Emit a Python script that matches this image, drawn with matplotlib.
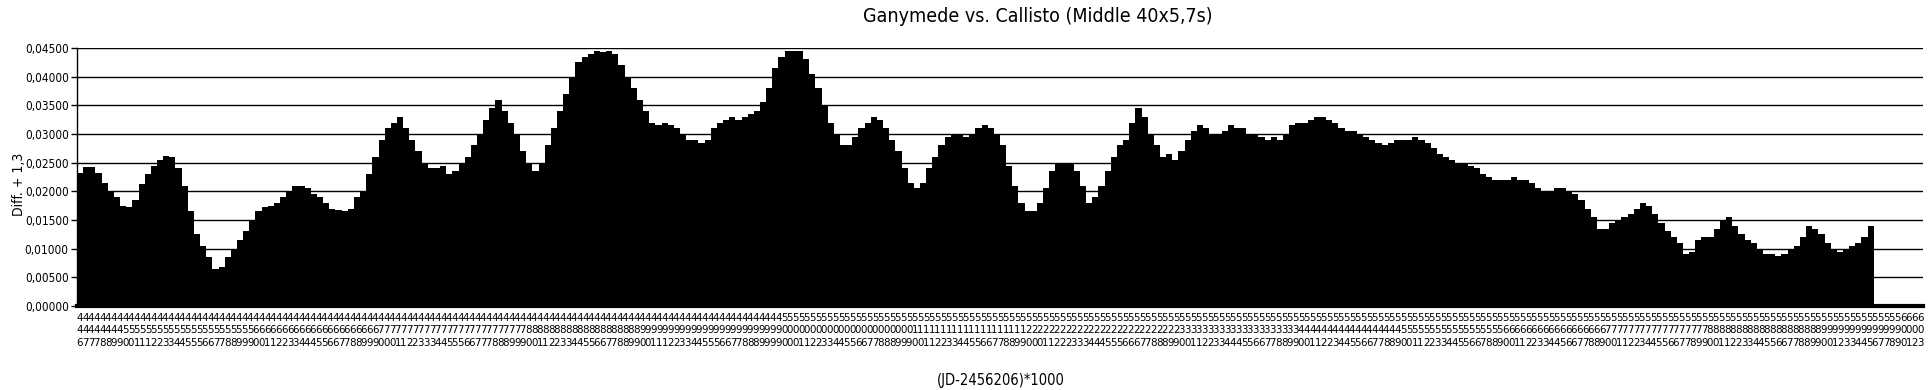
import numpy as np
import matplotlib
matplotlib.use("Agg")
import matplotlib.pyplot as plt
from matplotlib import font_manager

# ---------------- data ----------------
title = "Ganymede vs. Callisto (Middle 40x5,7s)"
x_title = "(JD-2456206)*1000"
y_title = "Diff. + 1,3"

# Diff values, left to right (approximate readings of the bar profile)
values_a = [
    0.0232, 0.0243, 0.0243, 0.0232, 0.0215, 0.0200, 0.0190, 0.0175, 0.0172, 0.0185,
    0.0212, 0.0230, 0.0245, 0.0255, 0.0262, 0.0260, 0.0240, 0.0210, 0.0165, 0.0125,
    0.0105, 0.0085, 0.0065, 0.0068, 0.0085, 0.0100, 0.0115, 0.0130, 0.0150, 0.0165,
    0.0172, 0.0175, 0.0180, 0.0190, 0.0200, 0.0210, 0.0210, 0.0205, 0.0195, 0.0190,
    0.0180, 0.0170, 0.0168, 0.0165, 0.0170, 0.0190,
]
values_b = [
    0.0200, 0.0230, 0.0260, 0.0290, 0.0310, 0.0320, 0.0330, 0.0310, 0.0290, 0.0270,
    0.0250, 0.0240, 0.0240, 0.0245, 0.0230, 0.0235, 0.0250, 0.0260, 0.0280, 0.0300,
    0.0325, 0.0345, 0.0360, 0.0340, 0.0320, 0.0300, 0.0270, 0.0250, 0.0235, 0.0250,
    0.0280, 0.0310, 0.0340, 0.0370, 0.0400, 0.0425, 0.0435, 0.0440, 0.0445, 0.0443,
    0.0445, 0.0440, 0.0420, 0.0400, 0.0380, 0.0360, 0.0340, 0.0320, 0.0315, 0.0320,
    0.0315, 0.0310, 0.0300, 0.0290, 0.0290, 0.0285, 0.0290, 0.0310, 0.0320, 0.0325,
    0.0330, 0.0325, 0.0330, 0.0335, 0.0340, 0.0355, 0.0380, 0.0415, 0.0435, 0.0445,
    0.0445, 0.0445, 0.0430, 0.0405, 0.0380, 0.0350, 0.0320, 0.0300, 0.0280, 0.0280,
    0.0295, 0.0310, 0.0320, 0.0330, 0.0325, 0.0310, 0.0290, 0.0270, 0.0240, 0.0215,
    0.0205, 0.0215, 0.0240, 0.0260, 0.0280, 0.0295, 0.0300, 0.0300, 0.0295, 0.0300,
    0.0310, 0.0315, 0.0310, 0.0300, 0.0280, 0.0245, 0.0210, 0.0180, 0.0165, 0.0165,
    0.0180, 0.0205, 0.0235, 0.0250, 0.0250, 0.0250, 0.0235, 0.0210, 0.0180, 0.0190,
    0.0210, 0.0235, 0.0260, 0.0280, 0.0290, 0.0320, 0.0345, 0.0330, 0.0300, 0.0280,
    0.0260, 0.0265, 0.0255, 0.0270, 0.0290, 0.0305, 0.0315, 0.0310, 0.0300, 0.0300,
    0.0305, 0.0315, 0.0310, 0.0310, 0.0300, 0.0300, 0.0295, 0.0290, 0.0295, 0.0290,
    0.0300, 0.0315, 0.0320, 0.0320, 0.0325, 0.0330, 0.0330, 0.0325, 0.0320, 0.0310,
    0.0305, 0.0305, 0.0300, 0.0295, 0.0290, 0.0285, 0.0280, 0.0285, 0.0290, 0.0290,
    0.0290, 0.0295, 0.0290, 0.0285, 0.0275, 0.0265, 0.0260, 0.0255, 0.0250, 0.0250,
    0.0245, 0.0240, 0.0230, 0.0225, 0.0220, 0.0220, 0.0220, 0.0225, 0.0220, 0.0220,
    0.0215, 0.0205, 0.0200, 0.0200, 0.0205, 0.0205, 0.0200, 0.0195, 0.0185, 0.0170,
    0.0155, 0.0135, 0.0135, 0.0145, 0.0150, 0.0155, 0.0160, 0.0170, 0.0180, 0.0175,
    0.0160, 0.0145, 0.0130, 0.0120, 0.0110, 0.0090, 0.0095, 0.0115, 0.0120, 0.0120,
    0.0135, 0.0150, 0.0155, 0.0140, 0.0125, 0.0115, 0.0110, 0.0100, 0.0090, 0.0090,
    0.0088, 0.0090, 0.0100, 0.0105, 0.0120, 0.0140, 0.0135, 0.0125, 0.0110, 0.0100,
    0.0095, 0.0100, 0.0105, 0.0110, 0.0120, 0.0140,
]
values_tail = [0.0, 0.0, 0.0, 0.0, 0.0, 0.0, 0.0, 0.0]
values = values_a + values_b + values_tail

# category labels (JD-2456206)*1000 : hundreds+tens prefix and the unit digits shown
label_decades = [
    ("44", "67778899"),
    ("45", "00111223344555667788999"),
    ("46", "0011223344455667788999"),
    ("47", "00011223334455566777888999"),
    ("48", "00112233445566778899"),
    ("49", "0011122334455566778889999"),
    ("50", "00011223344556677888999"),
    ("51", "00112233445566778899"),
    ("52", "000112223334445556667788899"),
    ("53", "001122334445566778899"),
    ("54", "001122344556677889"),
    ("55", "001122334455667889"),
    ("56", "001122334456677889"),
    ("57", "001122344556677899"),
    ("58", "00112233445566778899"),
    ("59", "00123344567789"),
    ("60", "0123"),
]
y_ticks = [0.0, 0.005, 0.010, 0.015, 0.020, 0.025, 0.030, 0.035, 0.040, 0.045]

# ---------------- fonts ----------------
names = {f.name for f in font_manager.fontManager.ttflist}
if "Liberation Sans Narrow" in names:
    FAM = ["Liberation Sans Narrow", "DejaVu Sans"]
    STRETCH = "normal"
else:
    FAM = ["DejaVu Sans"]
    STRETCH = "condensed"
plt.rcParams["font.family"] = FAM

# ---------------- figure ----------------
W, H = 1930, 390
fig = plt.figure(figsize=(W / 100, H / 100), dpi=100)
left, right, top, bottom = 77, 1923, 48, 306
ax = fig.add_axes([left / W, (H - bottom) / H, (right - left) / W, (bottom - top) / H])

n = len(values)
xs = np.arange(n)
ax.bar(xs, values, width=1.0, color="black", linewidth=0, antialiased=False, zorder=2)
ax.set_xlim(-0.5, n - 0.5)
ax.set_ylim(0, 0.045)

ax.set_yticks(y_ticks)
ax.set_yticklabels([f"{v:.5f}".replace(".", ",") for v in y_ticks],
                   fontsize=8.5, fontstretch=STRETCH)
ax.yaxis.grid(True, color="black", linewidth=1.0, zorder=1)
ax.set_axisbelow(True)
ax.tick_params(axis="y", direction="out", length=4, width=1, color="black", pad=2)

labels = []
for prefix, units in label_decades:
    for u in units:
        labels.append(prefix + u)
nl = len(labels)
pos = -0.5 + (np.arange(nl) + 0.5) * n / nl
ax.set_xticks(pos)
ax.set_xticklabels(["\n".join(s) for s in labels], fontsize=8.2,
                   linespacing=1.3, fontstretch=STRETCH)
ax.tick_params(axis="x", length=0, pad=5)

for s in ("top", "right"):
    ax.spines[s].set_visible(False)
ax.spines["left"].set_color("black")
ax.spines["left"].set_linewidth(1.0)
ax.spines["bottom"].set_color("black")
ax.spines["bottom"].set_linewidth(3.0)

fig.text(1038 / W, 1 - 17 / H, title, ha="center", va="center", fontsize=14,
         fontstretch=STRETCH)
fig.text(1001 / W, 1 - 380 / H, x_title, ha="center", va="center", fontsize=10.5,
         fontstretch=STRETCH)
fig.text(19 / W, 1 - 184 / H, y_title, ha="center", va="center", rotation=90,
         fontsize=10, fontstretch=STRETCH)

fig.savefig("out.png", dpi=100, facecolor="white")
